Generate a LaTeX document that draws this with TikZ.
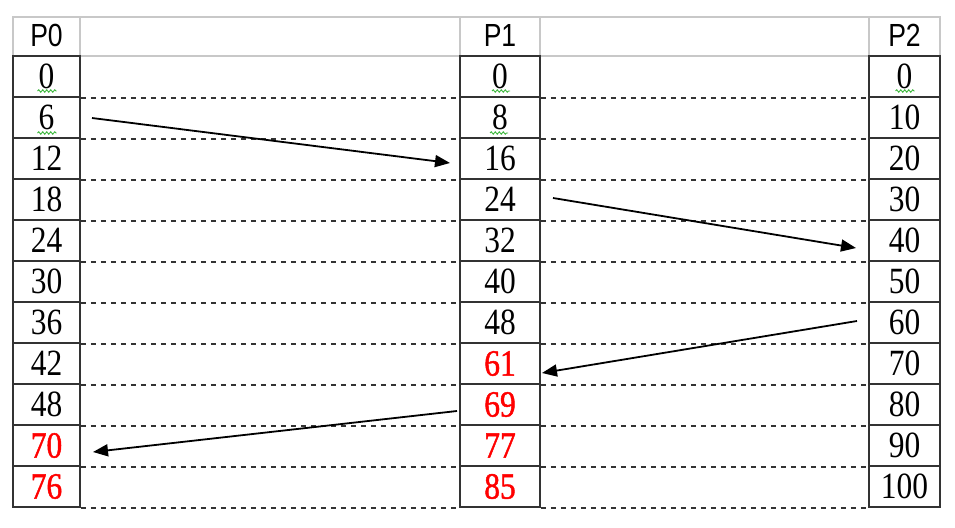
\documentclass[tikz,border=0pt]{standalone}
\usepackage{fontspec}
\usetikzlibrary{arrows.meta,decorations.pathmorphing}
\newfontfamily\numfont[FakeStretch=0.85]{Liberation Serif}
\newfontfamily\rednumfont[FakeStretch=0.85,FakeBold=1.2]{Liberation Serif}
\newfontfamily\headfont[FakeStretch=0.83]{Liberation Sans}
\definecolor{gridgrey}{HTML}{C8C8C8}
\definecolor{celldark}{HTML}{333333}
\definecolor{spellgreen}{HTML}{3DB83D}
\tikzset{
  hcell/.style={draw=gridgrey, line width=1.5pt, inner sep=0pt, minimum height=39pt,
    font=\headfont\fontsize{32}{32}\selectfont},
  cell/.style={draw=celldark, line width=1.6pt, inner sep=0pt, minimum height=41pt,
    font=\numfont\fontsize{37}{37}\selectfont},
  redtxt/.style={text=red, font=\rednumfont\fontsize{37}{37}\selectfont},
  dashrule/.style={draw=celldark, line width=1.8pt, dash pattern=on 5pt off 5pt},
  arrowline/.style={line width=1.8pt, -{Triangle[length=15pt,width=12pt]}},
  spell/.style={draw=spellgreen, line width=0.9pt, decorate,
    decoration={snake, amplitude=1.2pt, segment length=4pt}}
}
\begin{document}
\begin{tikzpicture}[x=1pt,y=-1pt]
\useasboundingbox (0,0) rectangle (955,527);
\fill[white] (0,0) rectangle (955,527);
% header row
\node[hcell, minimum width=380pt] (hg1) at (270,36.5) {};
\node[hcell, minimum width=329pt] (hg2) at (704.5,36.5) {};
\node[hcell, minimum width=67pt] (h0) at (46.5,36.5) {\raisebox{2pt}{P0}};
\node[hcell, minimum width=80pt] (h1) at (500,36.5) {\raisebox{2pt}{P1}};
\node[hcell, minimum width=71pt] (h2) at (904.5,36.5) {\raisebox{2pt}{P2}};
% P0 column
\foreach \v [count=\i from 0] in {0,6,12,18,24,30,36,42,48} {
  \node[cell, minimum width=67pt] (a\i) at (46.5,{76.5+41*\i}) {\v};
}
\node[cell, minimum width=67pt, redtxt] (a9) at (46.5,{76.5+41*9}) {70};
\node[cell, minimum width=67pt, redtxt] (a10) at (46.5,{76.5+41*10}) {76};
% P1 column
\foreach \v [count=\i from 0] in {0,8,16,24,32,40,48} {
  \node[cell, minimum width=80pt] (b\i) at (500,{76.5+41*\i}) {\v};
}
\foreach \v [count=\i from 7] in {61,69,77,85} {
  \node[cell, minimum width=80pt, redtxt] (b\i) at (500,{76.5+41*\i}) {\v};
}
% P2 column
\foreach \v [count=\i from 0] in {0,10,20,30,40,50,60,70,80,90,100} {
  \node[cell, minimum width=71pt] (c\i) at (904.5,{76.5+41*\i}) {\v};
}
% dashed row lines
\foreach \i in {0,...,10} {
  \draw[dashrule] (a\i.south east) -- (b\i.south west);
  \draw[dashrule] (b\i.south east) -- (c\i.south west);
}
% spell-check squiggles
\draw[spell] ([xshift=-9pt,yshift=-14.5pt]a0.center) -- ([xshift=10pt,yshift=-14.5pt]a0.center);
\draw[spell] ([xshift=-9pt,yshift=-15.5pt]a1.center) -- ([xshift=10pt,yshift=-15.5pt]a1.center);
\draw[spell] ([xshift=-8pt,yshift=-14.5pt]b0.center) -- ([xshift=10pt,yshift=-14.5pt]b0.center);
\draw[spell] ([xshift=-10pt,yshift=-15.5pt]b1.center) -- ([xshift=8pt,yshift=-15.5pt]b1.center);
\draw[spell] ([xshift=-9pt,yshift=-14.5pt]c0.center) -- ([xshift=10pt,yshift=-14.5pt]c0.center);
% arrow end points
\coordinate (s1) at (92,118);  \coordinate (e1) at (450,163);
\coordinate (s2) at (553,198); \coordinate (e2) at (856,248);
\coordinate (s3) at (857,321); \coordinate (e3) at (542,373);
\coordinate (s4) at (457,411); \coordinate (e4) at (93,452);
\draw[arrowline] (s1) -- (e1);
\draw[arrowline] (s2) -- (e2);
\draw[arrowline] (s3) -- (e3);
\draw[arrowline] (s4) -- (e4);
\end{tikzpicture}
\end{document}
